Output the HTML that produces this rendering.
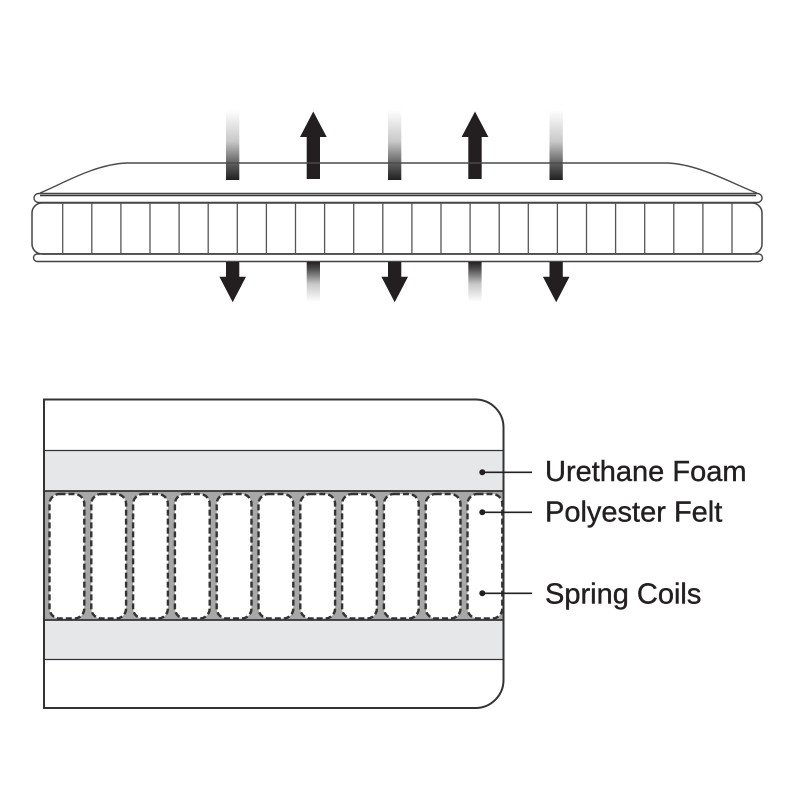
<!DOCTYPE html>
<html>
<head>
<meta charset="utf-8">
<style>
  html, body { margin: 0; padding: 0; background: #ffffff; }
  svg { display: block; }
  text { font-family: "Liberation Sans", Arial, sans-serif; }
</style>
</head>
<body>
<svg width="800" height="800" viewBox="0 0 800 800" xmlns="http://www.w3.org/2000/svg">
  <defs>
    <linearGradient id="fadeUp" x1="0" y1="0" x2="0" y2="1">
      <stop offset="0" stop-color="#ffffff"/>
      <stop offset="0.45" stop-color="#c8c8c8"/>
      <stop offset="0.8" stop-color="#555555"/>
      <stop offset="1" stop-color="#231f20"/>
    </linearGradient>
    <linearGradient id="fadeDown" x1="0" y1="1" x2="0" y2="0">
      <stop offset="0" stop-color="#ffffff"/>
      <stop offset="0.45" stop-color="#c8c8c8"/>
      <stop offset="0.8" stop-color="#555555"/>
      <stop offset="1" stop-color="#231f20"/>
    </linearGradient>
  </defs>

  <!-- ===== TOP: mattress side view ===== -->
  <rect x="226" y="110" width="13.3" height="70" fill="url(#fadeUp)"/>
  <rect x="388" y="110" width="13.3" height="70" fill="url(#fadeUp)"/>
  <rect x="549.5" y="110" width="13.3" height="70" fill="url(#fadeUp)"/>

  <polygon points="313.3,111.5 326.7,137 320,137 320,179 306.7,179 306.7,137 300,137" fill="#231f20"/>
  <polygon points="475,111.5 488.4,137 481.7,137 481.7,179 468.3,179 468.3,137 461.6,137" fill="#231f20"/>

  <path d="M40,193 C62,184 95,164 127,163 L667,163 C699,164 733,184 757,193" fill="none" stroke="#4a4a4a" stroke-width="1.4"/>
  <rect x="34" y="193.5" width="728" height="9" rx="4.5" ry="4.5" fill="#ffffff" stroke="#444" stroke-width="1.4"/>
  <line x1="40" y1="195.5" x2="756" y2="195.5" stroke="#333" stroke-width="1.6"/>
  <rect x="32" y="203" width="730" height="51" rx="10" ry="10" fill="#ffffff" stroke="#444" stroke-width="1.5"/>
  <rect x="33.5" y="254" width="729" height="7.5" rx="3.75" ry="3.75" fill="#ffffff" stroke="#444" stroke-width="1.4"/>
  <line x1="42" y1="254" x2="752" y2="254" stroke="#444" stroke-width="1.5"/>

  <g stroke="#555" stroke-width="1.3">
    <line x1="62.7" y1="203" x2="62.7" y2="254"/>
    <line x1="91.8" y1="203" x2="91.8" y2="254"/>
    <line x1="120.9" y1="203" x2="120.9" y2="254"/>
    <line x1="150.0" y1="203" x2="150.0" y2="254"/>
    <line x1="179.1" y1="203" x2="179.1" y2="254"/>
    <line x1="208.2" y1="203" x2="208.2" y2="254"/>
    <line x1="237.3" y1="203" x2="237.3" y2="254"/>
    <line x1="266.4" y1="203" x2="266.4" y2="254"/>
    <line x1="295.5" y1="203" x2="295.5" y2="254"/>
    <line x1="324.6" y1="203" x2="324.6" y2="254"/>
    <line x1="353.7" y1="203" x2="353.7" y2="254"/>
    <line x1="382.8" y1="203" x2="382.8" y2="254"/>
    <line x1="411.9" y1="203" x2="411.9" y2="254"/>
    <line x1="441.0" y1="203" x2="441.0" y2="254"/>
    <line x1="470.1" y1="203" x2="470.1" y2="254"/>
    <line x1="499.2" y1="203" x2="499.2" y2="254"/>
    <line x1="528.3" y1="203" x2="528.3" y2="254"/>
    <line x1="557.4" y1="203" x2="557.4" y2="254"/>
    <line x1="586.5" y1="203" x2="586.5" y2="254"/>
    <line x1="615.6" y1="203" x2="615.6" y2="254"/>
    <line x1="644.7" y1="203" x2="644.7" y2="254"/>
    <line x1="673.8" y1="203" x2="673.8" y2="254"/>
    <line x1="702.9" y1="203" x2="702.9" y2="254"/>
    <line x1="732.0" y1="203" x2="732.0" y2="254"/>
  </g>

  <polygon points="226,262 239.3,262 239.3,276.7 246,276.7 232.7,302.3 219.4,276.7 226,276.7" fill="#231f20"/>
  <polygon points="388,262 401.3,262 401.3,276.7 408,276.7 394.7,302.3 381.4,276.7 388,276.7" fill="#231f20"/>
  <polygon points="549.5,262 562.8,262 562.8,276.7 569.5,276.7 556.2,302.3 542.9,276.7 549.5,276.7" fill="#231f20"/>

  <rect x="306.7" y="262" width="13.3" height="40" fill="url(#fadeDown)"/>
  <rect x="468.3" y="262" width="13.3" height="40" fill="url(#fadeDown)"/>

  <!-- ===== BOTTOM: cross-section ===== -->
  <rect x="44" y="450" width="460" height="41" fill="#e6e7e8"/>
  <rect x="44" y="491" width="460" height="129" fill="#a7a7a7"/>
  <rect x="44" y="620" width="460" height="40" fill="#e6e7e8"/>
  <g stroke="#333" >
    <line x1="44" y1="450.5" x2="504" y2="450.5" stroke-width="1.3"/>
    <line x1="44" y1="491" x2="504" y2="491" stroke-width="1.8"/>
    <line x1="44" y1="620" x2="504" y2="620" stroke-width="1.8"/>
    <line x1="44" y1="659.5" x2="504" y2="659.5" stroke-width="1.3"/>
  </g>

  <g fill="#ffffff" stroke="#333" stroke-width="2.4" stroke-dasharray="6,3">
    <rect x="49.5" y="494" width="34.8" height="124.5" rx="10" ry="10"/>
    <rect x="91.3" y="494" width="34.8" height="124.5" rx="10" ry="10"/>
    <rect x="133.1" y="494" width="34.8" height="124.5" rx="10" ry="10"/>
    <rect x="174.9" y="494" width="34.8" height="124.5" rx="10" ry="10"/>
    <rect x="216.7" y="494" width="34.8" height="124.5" rx="10" ry="10"/>
    <rect x="258.5" y="494" width="34.8" height="124.5" rx="10" ry="10"/>
    <rect x="300.3" y="494" width="34.8" height="124.5" rx="10" ry="10"/>
    <rect x="342.1" y="494" width="34.8" height="124.5" rx="10" ry="10"/>
    <rect x="383.9" y="494" width="34.8" height="124.5" rx="10" ry="10"/>
    <rect x="425.7" y="494" width="34.8" height="124.5" rx="10" ry="10"/>
    <rect x="467.5" y="494" width="34.8" height="124.5" rx="10" ry="10"/>
  </g>

  <path d="M44,399.5 L475.5,399.5 A28,28 0 0 1 503.5,427.5 L503.5,680 A28,28 0 0 1 475.5,708 L44,708 Z" fill="none" stroke="#333" stroke-width="2"/>

  <g fill="#231f20" stroke="#231f20">
    <circle cx="482.3" cy="472.3" r="3" stroke="none"/>
    <line x1="482.3" y1="472.3" x2="532" y2="472.3" stroke-width="1.6"/>
    <circle cx="482.3" cy="512.3" r="3" stroke="none"/>
    <line x1="482.3" y1="512.3" x2="532" y2="512.3" stroke-width="1.6"/>
    <circle cx="482.3" cy="593.3" r="3" stroke="none"/>
    <line x1="482.3" y1="593.3" x2="532" y2="593.3" stroke-width="1.6"/>
  </g>

  <g fill="#231f20" stroke="#231f20" stroke-width="0.4" font-size="29">
    <text x="545" y="481">Urethane Foam</text>
    <text x="545" y="521.5">Polyester Felt</text>
    <text x="545" y="603.5">Spring Coils</text>
  </g>
</svg>
</body>
</html>
